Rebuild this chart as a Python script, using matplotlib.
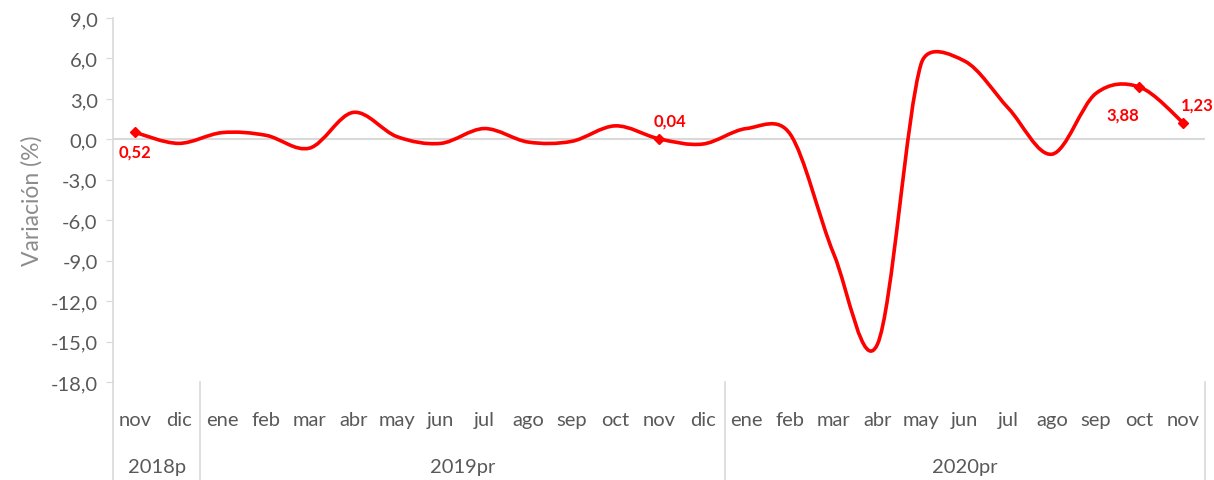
import matplotlib
matplotlib.use("Agg")
import matplotlib.pyplot as plt
import matplotlib.ticker as mticker
import matplotlib.transforms as mtransforms
from matplotlib.path import Path
from matplotlib.patches import PathPatch
import numpy as np

# ---- Data ----
MONTHS = ["nov", "dic",
          "ene", "feb", "mar", "abr", "may", "jun", "jul", "ago", "sep", "oct", "nov", "dic",
          "ene", "feb", "mar", "abr", "may", "jun", "jul", "ago", "sep", "oct", "nov"]
YEARS = ["2018p", "2019pr", "2020pr"]
YEAR_SIZES = [2, 12, 11]
VALUES = [0.52, -0.30,
          0.50, 0.30, -0.65, 2.00, 0.20, -0.30, 0.80, -0.20, -0.15, 1.00, 0.04, -0.35,
          0.80, 0.40, -8.50, -15.20, 5.60, 5.80, 2.30, -1.10, 3.40, 3.88, 1.23]
LABELLED = {0: (0, -14), 12: (8, 13), 23: (-12, -20), 24: (10, 13)}  # index -> label offset (pt)
YTICKS = [9, 6, 3, 0, -3, -6, -9, -12, -15, -18]

RED = "#ff0000"
GRID = "#d9d9d9"
TICK = "#595959"
LABEL = "#8c8c8c"
FONT = ["Lato", "DejaVu Sans"]

plt.rcParams["font.family"] = FONT


def smooth_path(ax, xs, ys):
    """Excel-like smoothed line: cubic Bezier segments built in display space."""
    pts = ax.transData.transform(np.column_stack([xs, ys]))
    n = len(pts)
    verts = [pts[0]]
    codes = [Path.MOVETO]
    for i in range(n - 1):
        p0 = pts[max(i - 1, 0)]
        p1 = pts[i]
        p2 = pts[i + 1]
        p3 = pts[min(i + 2, n - 1)]
        seg = np.linalg.norm(p2 - p1)
        d1 = p2 - p0
        d2 = p3 - p1
        l1 = np.linalg.norm(d1)
        l2 = np.linalg.norm(d2)
        a1 = min(l1 / 6, seg / 2)
        a2 = min(l2 / 6, seg / 2)
        c1 = p1 + (d1 / l1 * a1 if l1 else 0)
        c2 = p2 - (d2 / l2 * a2 if l2 else 0)
        verts += [c1, c2, p2]
        codes += [Path.CURVE4] * 3
    verts = ax.transData.inverted().transform(np.array(verts))
    return Path(verts, codes)


fig = plt.figure(figsize=(12.14, 4.81), dpi=100)
ax = fig.add_axes([0.0931, 0.2037, 0.8995, 0.7568])

x = np.arange(len(VALUES))
ax.set_xlim(-0.5, len(VALUES) - 0.5)
ax.set_ylim(-18, 9)

ax.axhline(0, color=GRID, linewidth=1.5, zorder=1)

patch = PathPatch(smooth_path(ax, x, VALUES), facecolor="none", edgecolor=RED,
                  linewidth=2.6, capstyle="round", joinstyle="round", zorder=3)
ax.add_patch(patch)

for i, (dx, dy) in LABELLED.items():
    ax.plot(x[i], VALUES[i], marker="D", markersize=5, color=RED, zorder=4)
    ax.annotate(f"{VALUES[i]:.2f}".replace(".", ","), xy=(x[i], VALUES[i]),
                xytext=(dx, dy), textcoords="offset points", ha="center", va="center",
                fontsize=12, fontweight="bold", color=RED)

# ---- Axes styling ----
for s in ["top", "right", "bottom"]:
    ax.spines[s].set_visible(False)
ax.spines["left"].set_color(GRID)
ax.spines["left"].set_linewidth(1.2)
ax.set_yticks(YTICKS)
ax.yaxis.set_major_formatter(mticker.FuncFormatter(lambda v, _: f"{v:.1f}".replace(".", ",")))
ax.tick_params(axis="y", direction="out", length=5, color=GRID, labelcolor=TICK,
               labelsize=14.5, pad=6)
ax.set_xticks([])
ax.set_ylabel("Variación (%)", color=LABEL, fontsize=16.5, labelpad=6)

# ---- Multi-level category axis ----
trans = mtransforms.blended_transform_factory(ax.transData, ax.transAxes)
for i, m in enumerate(MONTHS):
    ax.text(i, -0.102, m, transform=trans, ha="center", va="center",
            fontsize=14.5, color=TICK)

bounds = np.concatenate([[0], np.cumsum(YEAR_SIZES)]) - 0.5
for b in bounds:
    ax.plot([b, b], [0, -0.27], transform=trans, color=GRID, linewidth=1.2, clip_on=False)
for yr, lo, hi in zip(YEARS, bounds[:-1], bounds[1:]):
    ax.text((lo + hi) / 2, -0.231, yr, transform=trans, ha="center", va="center",
            fontsize=14.5, color=TICK)

fig.savefig("out.png", dpi=100)
